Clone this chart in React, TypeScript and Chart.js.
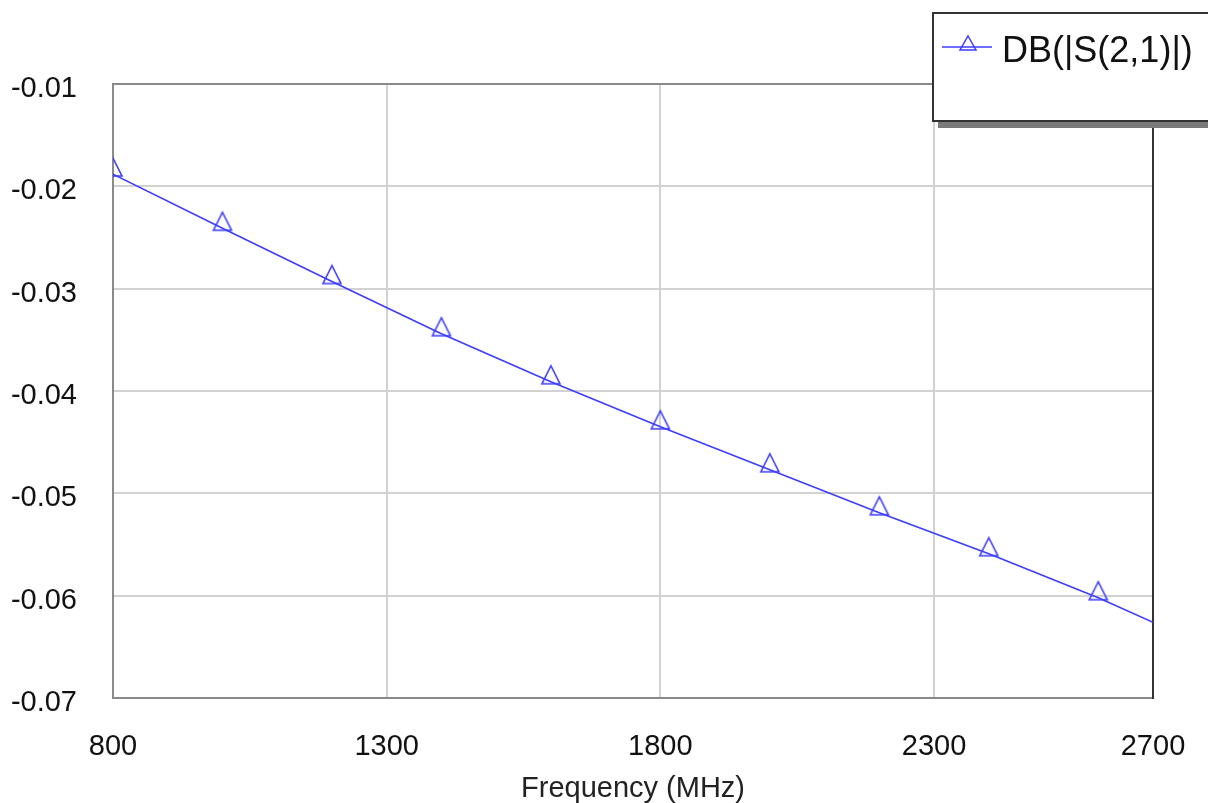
import React, { useEffect, useRef } from "react";
import { Chart, registerables } from "chart.js";

Chart.register(...registerables);

const frequencies = [800, 1000, 1200, 1400, 1600, 1800, 2000, 2200, 2400, 2600, 2700];
const s21Values = [-0.0188, -0.0241, -0.0293, -0.0344, -0.0391, -0.0435, -0.0477, -0.0519, -0.0559, -0.0602, -0.0626];
const xTickValues = [800, 1300, 1800, 2300, 2700];
const yTickValues = [-0.07, -0.06, -0.05, -0.04, -0.03, -0.02, -0.01];
const seriesLabel = "DB(|S(2,1)|)";
const xAxisTitle = "Frequency (MHz)";

const FONT = "'Liberation Sans', Arial, sans-serif";
const BLUE = "#3c3cff";

function makeTriangle(): HTMLCanvasElement {
  const c = document.createElement("canvas");
  c.width = 22;
  c.height = 44;
  const g = c.getContext("2d")!;
  g.strokeStyle = BLUE;
  g.lineWidth = 1.6;
  g.beginPath();
  g.moveTo(11, 6);
  g.lineTo(20, 24);
  g.lineTo(2, 24);
  g.closePath();
  g.stroke();
  return c;
}

const framePlugin = {
  id: "frame",
  beforeDatasetsDraw(chart: any) {
    const { ctx, chartArea: a } = chart;
    ctx.save();
    ctx.lineWidth = 2;
    ctx.strokeStyle = "#8a8a8a";
    ctx.beginPath();
    ctx.moveTo(a.right, a.top);
    ctx.lineTo(a.left, a.top);
    ctx.lineTo(a.left, a.bottom);
    ctx.lineTo(a.right, a.bottom);
    ctx.stroke();
    ctx.strokeStyle = "#333";
    ctx.beginPath();
    ctx.moveTo(a.right, a.top);
    ctx.lineTo(a.right, a.bottom + 1);
    ctx.stroke();
    ctx.restore();
  },
};

const legendPlugin = {
  id: "customLegend",
  afterDraw(chart: any) {
    const { ctx } = chart;
    ctx.save();
    // shadow
    ctx.fillStyle = "#7a7a7a";
    ctx.fillRect(938, 121, 300, 7);
    // box
    ctx.fillStyle = "#fff";
    ctx.fillRect(933, 13, 300, 108);
    ctx.strokeStyle = "#333";
    ctx.lineWidth = 2;
    ctx.strokeRect(933, 13, 300, 108);
    // marker line
    ctx.strokeStyle = BLUE;
    ctx.lineWidth = 1.5;
    ctx.beginPath();
    ctx.moveTo(942, 47);
    ctx.lineTo(992, 47);
    ctx.stroke();
    ctx.beginPath();
    ctx.moveTo(968, 36);
    ctx.lineTo(976, 50);
    ctx.lineTo(960, 50);
    ctx.closePath();
    ctx.stroke();
    // text
    ctx.fillStyle = "#111";
    ctx.font = `36px ${FONT}`;
    ctx.textBaseline = "alphabetic";
    ctx.textAlign = "left";
    ctx.fillText(seriesLabel, 1002, 62);
    ctx.restore();
  },
};

export default function App() {
  const canvasRef = useRef<HTMLCanvasElement | null>(null);

  useEffect(() => {
    if (!canvasRef.current) return;
    const tri = makeTriangle();
    const last = frequencies.length - 1;
    const chart = new Chart(canvasRef.current, {
      type: "line",
      data: {
        datasets: [
          {
            label: seriesLabel,
            data: frequencies.map((f, i) => ({ x: f, y: s21Values[i] })),
            borderColor: BLUE,
            borderWidth: 1.5,
            pointStyle: tri as any,
            pointRadius: (c: any) => (c.dataIndex === last ? 0 : 5),
            tension: 0,
            fill: false,
          },
        ],
      },
      options: {
        animation: false,
        responsive: true,
        maintainAspectRatio: false,
        layout: { padding: { left: 0, top: 84, right: 55, bottom: 0 } },
        plugins: { legend: { display: false }, tooltip: { enabled: false } },
        scales: {
          x: {
            type: "linear",
            min: 800,
            max: 2700,
            afterBuildTicks: (s: any) => {
              s.ticks = xTickValues.map((v) => ({ value: v }));
            },
            afterFit: (s: any) => {
              s.height = 105;
              s.paddingLeft = 0;
              s.paddingRight = 0;
            },
            ticks: {
              font: { family: FONT, size: 29 },
              color: "#111",
              padding: 32,
              maxRotation: 0,
              autoSkip: false,
              callback: (v: any) => String(v),
            },
            grid: { color: "#d2d2d2", lineWidth: 2, drawTicks: false },
            border: { display: false },
            title: {
              display: true,
              text: xAxisTitle,
              color: "#222",
              font: { family: FONT, size: 29, lineHeight: 1 },
              padding: { top: 0, bottom: 0 },
            },
          },
          y: {
            type: "linear",
            min: -0.07,
            max: -0.01,
            afterBuildTicks: (s: any) => {
              s.ticks = yTickValues.map((v) => ({ value: v }));
            },
            afterFit: (s: any) => {
              s.width = 113;
              s.paddingTop = 0;
              s.paddingBottom = 0;
            },
            ticks: {
              font: { family: FONT, size: 29 },
              color: "#111",
              padding: 36,
              labelOffset: 5,
              autoSkip: false,
              callback: (v: any) => Number(v).toFixed(2),
            },
            grid: { color: "#d2d2d2", lineWidth: 2, drawTicks: false },
            border: { display: false },
          },
        },
      },
      plugins: [framePlugin, legendPlugin],
    });
    return () => chart.destroy();
  }, []);

  return (
    <div style={{ position: "absolute", left: 0, top: 0, width: 1208, height: 803, background: "#fff" }}>
      <canvas ref={canvasRef} />
    </div>
  );
}
